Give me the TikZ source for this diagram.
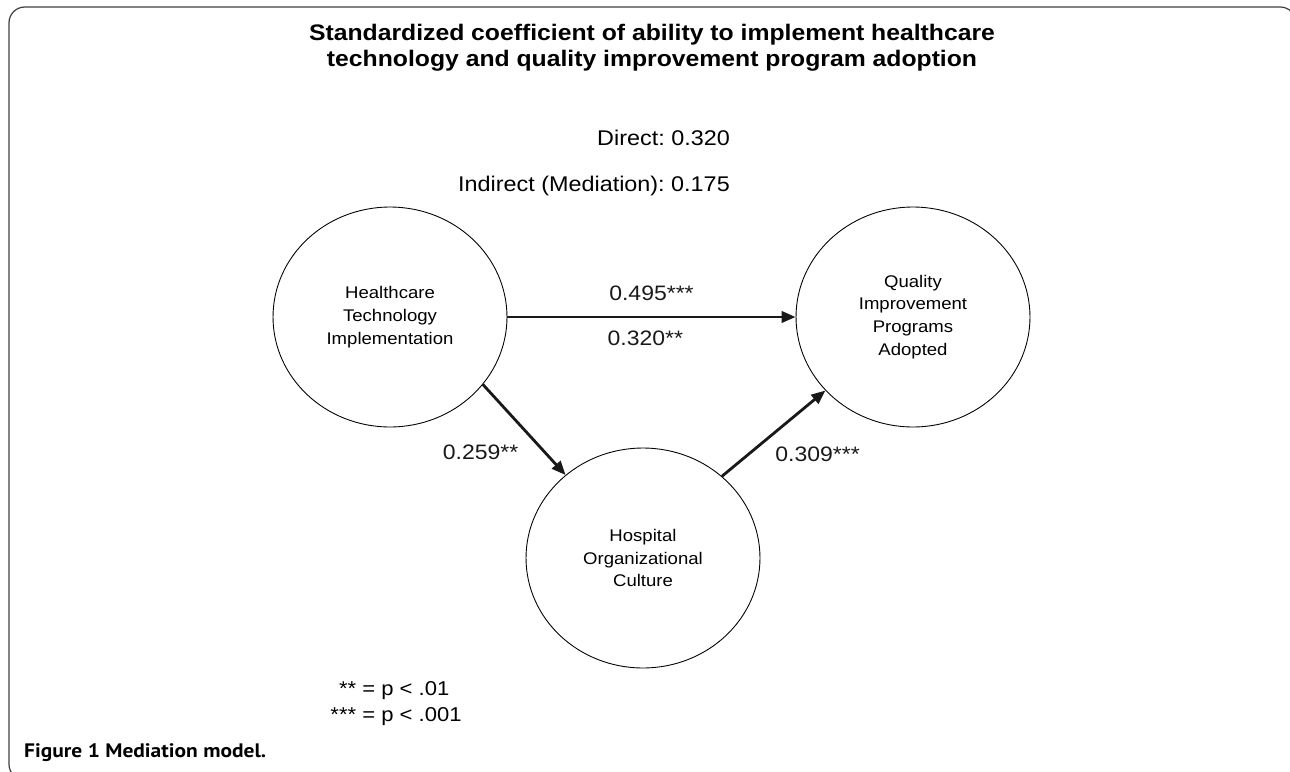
\documentclass[tikz,border=0pt]{standalone}
\usepackage{fontspec}
\setmainfont[FakeStretch=1.1]{Liberation Sans}
\newfontfamily\capfont[FakeStretch=1.1]{PT Sans}
\usetikzlibrary{shapes.geometric, arrows.meta, positioning}
\frenchspacing

\begin{document}
\begin{tikzpicture}[x=0.02cm, y=-0.02cm, >={Triangle[length=8pt,width=6.5pt]},
                    factor/.style={ellipse, draw, line width=0.5pt, minimum width=4.68cm, minimum height=4.4cm,
                                   inner sep=0pt, align=center, font=\fontsize{9.6}{13}\selectfont},
                    effect/.style={->, line width=1.6pt, black!90},
                    coef/.style={font=\fontsize{11.9}{14}\selectfont}]

                      \useasboundingbox (0,0) rectangle (1290,771);

                      % open frame round the figure
                      \draw[line width=0.7pt, black!75, rounded corners=9] (20,780) -- (9,780) -- (9,7) -- (1296,7) -- (1296,40);

                      \node[font=\bfseries\fontsize{12.8}{15}\selectfont, align=center] (title) at (652,48)
                           {Standardized coefficient of ability to implement healthcare\\technology and quality improvement program adoption};
                      \node[coef, font=\fontsize{12.1}{14}\selectfont, anchor=east] (direct) at (736,138) {Direct: 0.320};
                      \node[coef, font=\fontsize{12.1}{14}\selectfont, anchor=east] (indirect) at (736,186) {Indirect (Mediation): 0.175};

                      % the three factors
                      \node[factor] (hti) at (390,317) {Healthcare\\Technology\\Implementation};
                      \node[factor] (qip) at (913,317) {Quality\\Improvement\\Programs\\Adopted};
                      \node[factor] (hoc) at (643,558) {Hospital\\Organizational\\Culture};

                      \draw[effect] (hti) -- node[coef, above=5pt] (b495) {0.495***}
                                           node[coef, below=4pt, xshift=-3.5pt] (b320) {0.320**} (qip);
                      \draw[effect] (hti.-36) -- node[coef, pos=.75, left=11pt] (b259) {0.259**} (hoc.133);
                      \draw[effect] (hoc.46) -- node[coef, pos=.26, right=11pt] (b309) {0.309***} (qip.220);

                      \node[font=\fontsize{11.4}{14.8}\selectfont] (notes) at (396,703)
                           {\begin{tabular}{@{}r@{ = }l@{}}**&p < .01\\{}***&p < .001\end{tabular}};

                      \node[anchor=west, font=\capfont\bfseries\fontsize{11.1}{12}\selectfont] (caption) at (18,753) {Figure 1 Mediation model.};

                    \end{tikzpicture}
\end{document}
